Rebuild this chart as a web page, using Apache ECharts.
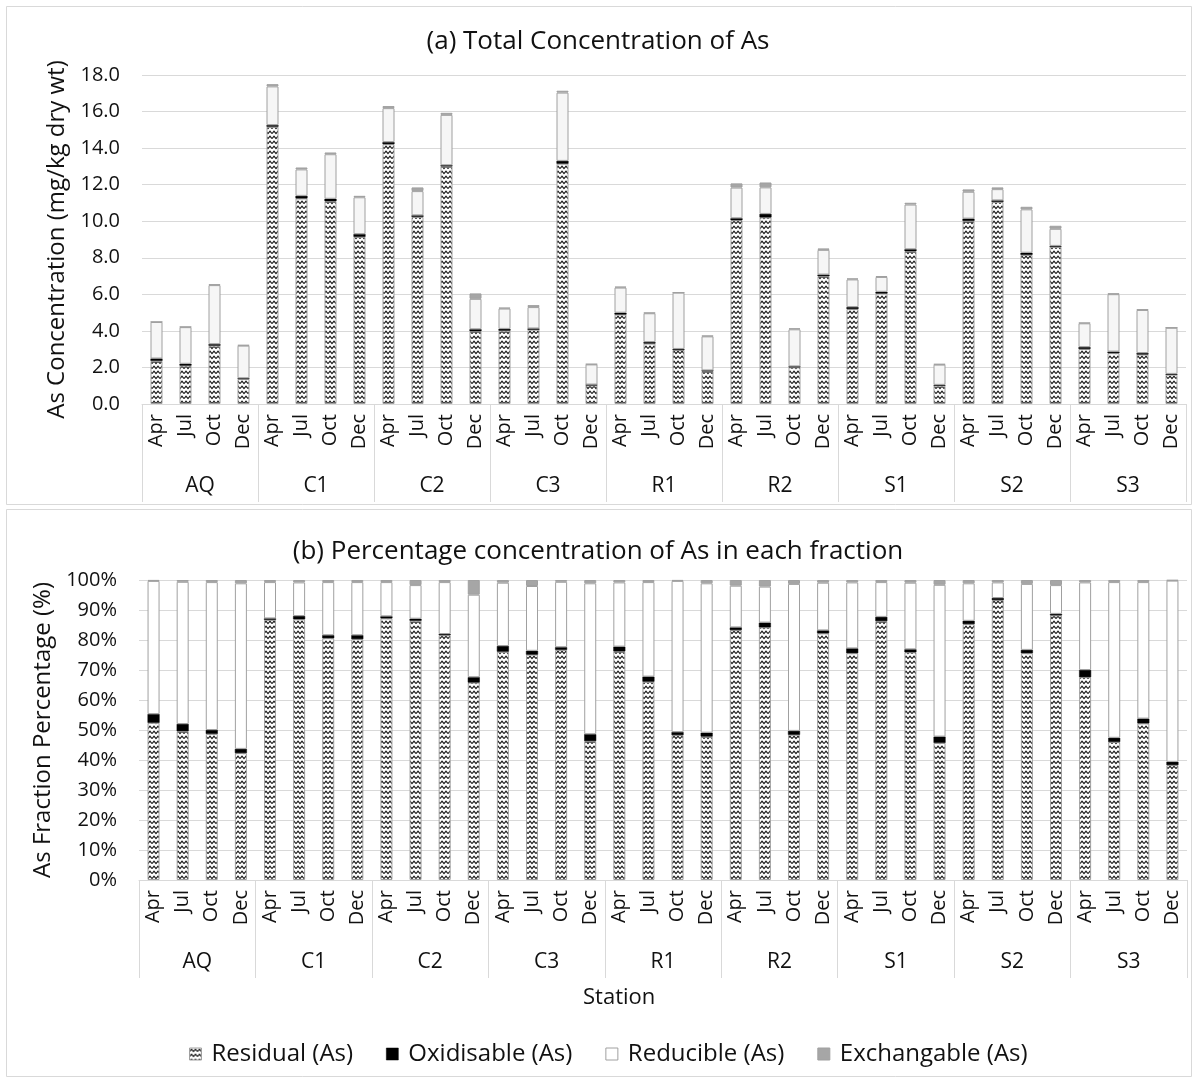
<!DOCTYPE html>
<html>
<head>
<meta charset="utf-8">
<script src="https://cdn.jsdelivr.net/npm/echarts@6/dist/echarts.min.js"></script>
<style>
html,body{margin:0;padding:0;background:#fff;}
#chart{width:1196px;height:1082px;}
</style>
</head>
<body>
<div id="chart"></div>
<script>
// ---- data ----
const stations = ['AQ','C1','C2','C3','R1','R2','S1','S2','S3'];
const months = ['Apr','Jul','Oct','Dec'];
// total As concentration (mg/kg dry wt), station-major, months Apr/Jul/Oct/Dec
const totalAs = [
  4.50, 4.23, 6.55, 3.23,
  17.50, 12.94, 13.76, 11.39,
  16.30, 11.85, 15.93, 6.05,
  5.27, 5.41, 17.14, 2.19,
  6.42, 5.00, 6.11, 3.74,
  12.07, 12.12, 4.14, 8.51,
  6.87, 7.00, 11.01, 2.19,
  11.74, 11.85, 10.79, 9.75,
  4.45, 6.05, 5.18, 4.18
];
// percentage of each fraction (%)
const residualPct = [
  52.4, 49.6, 48.7, 42.3,
  86.7, 86.9, 80.6, 80.3,
  87.2, 86.4, 81.6, 65.8,
  76.1, 75.1, 76.7, 46.3,
  76.2, 66.1, 48.3, 47.8,
  83.3, 84.2, 48.4, 82.2,
  75.6, 86.3, 75.9, 45.7,
  85.3, 93.3, 75.6, 88.2,
  67.6, 46.0, 52.2, 38.3
];
const oxidisablePct = [
  2.9, 2.4, 1.3, 1.4,
  0.5, 1.1, 1.0, 1.3,
  0.7, 0.7, 0.4, 1.8,
  1.9, 1.3, 0.9, 2.3,
  1.6, 1.7, 1.0, 1.3,
  0.9, 1.6, 1.3, 1.0,
  1.6, 1.4, 1.0, 2.1,
  1.1, 0.7, 1.1, 0.5,
  2.4, 1.4, 1.6, 1.1
];
const reduciblePct = [
  44.4, 47.4, 49.3, 55.2,
  12.1, 11.2, 17.7, 17.7,
  11.4, 11.2, 17.3, 27.5,
  21.1, 21.6, 21.8, 50.3,
  21.4, 31.5, 50.4, 49.8,
  13.9, 12.0, 49.0, 15.9,
  22.0, 11.6, 22.2, 50.6,
  12.5, 5.2, 22.0, 9.6,
  29.2, 51.9, 45.5, 60.4
];
const exchangeablePct = [
  0.3, 0.6, 0.7, 1.1,
  0.7, 0.8, 0.7, 0.7,
  0.7, 1.7, 0.7, 4.9,
  0.9, 2.0, 0.6, 1.1,
  0.8, 0.7, 0.3, 1.1,
  1.9, 2.2, 1.3, 0.9,
  0.8, 0.7, 0.9, 1.6,
  1.1, 0.8, 1.3, 1.7,
  0.8, 0.7, 0.7, 0.2
];
const yTicksTop = {min: 0, max: 18, interval: 2};
const yTicksBottom = {min: 0, max: 100, interval: 10};

// ---- derived ----
const monthLabels = [];
stations.forEach(() => months.forEach(m => monthLabels.push(m)));
const toConc = pct => pct.map((p, i) => +(totalAs[i] * p / 100).toFixed(3));

// ---- styles ----
function makeZigzag() {
  const c = document.createElement('canvas');
  c.width = 8; c.height = 5;
  const ctx = c.getContext('2d');
  ctx.fillStyle = '#ffffff';
  ctx.fillRect(0, 0, 8, 5);
  ctx.strokeStyle = '#1a1a1a';
  ctx.lineWidth = 1.2;
  ctx.beginPath();
  ctx.moveTo(0, 3.6); ctx.lineTo(2, 1.2); ctx.lineTo(4, 3.6); ctx.lineTo(6, 1.2); ctx.lineTo(8, 3.6);
  ctx.stroke();
  return c;
}
const zig = {image: makeZigzag(), repeat: 'repeat'};
const FONT = 'Open Sans';
const TXT = '#111111';
const GRID_C = '#d9d9d9';
const BORDER = '#a0a0a0';

const names = ['Residual (As)', 'Oxidisable (As)', 'Reducible (As)', 'Exchangable (As)'];
const styles = [
  {color: zig, borderColor: BORDER, borderWidth: 1},
  {color: '#000000', borderColor: '#000000', borderWidth: 0.5},
  {color: '#f6f6f6', borderColor: BORDER, borderWidth: 1},
  {color: '#a6a6a6', borderColor: BORDER, borderWidth: 1}
];
const stylesB = styles.map((s, i) => i === 2 ? Object.assign({}, s, {color: '#ffffff'}) : s);

const topData = [toConc(residualPct), toConc(oxidisablePct), toConc(reduciblePct), toConc(exchangeablePct)];
const botData = [residualPct, oxidisablePct, reduciblePct, exchangeablePct];

const series = [];
botData.forEach((d, i) => series.push({
  name: names[i], type: 'bar', stack: 'pct', xAxisIndex: 2, yAxisIndex: 1,
  barWidth: 12, data: d, itemStyle: stylesB[i], animation: false
}));
topData.forEach((d, i) => series.push({
  name: names[i], type: 'bar', stack: 'conc', xAxisIndex: 0, yAxisIndex: 0,
  barWidth: 12, data: d, itemStyle: styles[i], animation: false
}));

function monthAxis(g) {
  return {
    gridIndex: g, type: 'category', data: monthLabels, position: 'bottom',
    axisLine: {show: true, lineStyle: {color: GRID_C, width: 1}},
    axisTick: {show: false},
    axisLabel: {interval: 0, rotate: 90, margin: 10, fontFamily: FONT, fontSize: 20, color: TXT},
    splitLine: {show: false}
  };
}
function stationAxis(g) {
  return {
    gridIndex: g, type: 'category', data: stations, position: 'bottom', offset: 0,
    axisLine: {show: false},
    axisTick: {show: true, interval: 0, length: 98, lineStyle: {color: GRID_C, width: 1}},
    axisLabel: {interval: 0, margin: 72, fontFamily: FONT, fontSize: 21, color: TXT},
    splitLine: {show: false}
  };
}

const chart = echarts.init(document.getElementById('chart'), null, {renderer: 'canvas'});
chart.setOption({
  backgroundColor: '#ffffff',
  animation: false,
  textStyle: {fontFamily: FONT},
  graphic: [
    {type: 'rect', shape: {x: 6.5, y: 6.5, width: 1185, height: 498}, style: {fill: 'none', stroke: GRID_C, lineWidth: 1}, silent: true},
    {type: 'rect', shape: {x: 6.5, y: 509.5, width: 1185, height: 567}, style: {fill: 'none', stroke: GRID_C, lineWidth: 1}, silent: true}
  ],
  title: [
    {text: '(a) Total Concentration of As', left: 'center', top: 24,
     textStyle: {fontFamily: FONT, fontSize: 26, fontWeight: 'normal', color: TXT}},
    {text: '(b) Percentage concentration of As in each fraction', left: 'center', top: 534,
     textStyle: {fontFamily: FONT, fontSize: 26, fontWeight: 'normal', color: TXT}},
    {text: 'Station', left: 578, top: 982,
     textStyle: {fontFamily: FONT, fontSize: 22, fontWeight: 'normal', color: TXT}}
  ],
  legend: {
    top: 1037, left: 184, itemWidth: 12, itemHeight: 12, itemGap: 33,
    icon: 'rect',
    textStyle: {fontFamily: FONT, fontSize: 24, color: TXT, padding: [0, 0, 0, 5]},
    data: names.map((n, i) => ({name: n, itemStyle: stylesB[i]}))
  },
  grid: [
    {left: 142, right: 10, top: 75, bottom: 678, outerBoundsMode: 'none', containLabel: false},
    {left: 139, right: 9, top: 580, bottom: 202, outerBoundsMode: 'none', containLabel: false}
  ],
  xAxis: [monthAxis(0), stationAxis(0), monthAxis(1), stationAxis(1)],
  yAxis: [
    {gridIndex: 0, type: 'value', min: yTicksTop.min, max: yTicksTop.max, interval: yTicksTop.interval,
     name: 'As Concentration (mg/kg dry wt)', nameLocation: 'middle', nameGap: 71,
     nameTextStyle: {fontFamily: FONT, fontSize: 24, color: TXT},
     axisLine: {show: false}, axisTick: {show: false},
     axisLabel: {margin: 22, fontFamily: FONT, fontSize: 20, color: TXT, formatter: v => v.toFixed(1)},
     splitLine: {lineStyle: {color: GRID_C, width: 1}}},
    {gridIndex: 1, type: 'value', min: yTicksBottom.min, max: yTicksBottom.max, interval: yTicksBottom.interval,
     name: 'As Fraction Percentage (%)', nameLocation: 'middle', nameGap: 79,
     nameTextStyle: {fontFamily: FONT, fontSize: 24, color: TXT},
     axisLine: {show: false}, axisTick: {show: false},
     axisLabel: {margin: 22, fontFamily: FONT, fontSize: 20, color: TXT, formatter: '{value}%'},
     splitLine: {lineStyle: {color: GRID_C, width: 1}}}
  ],
  series: series
});
</script>
</body>
</html>
